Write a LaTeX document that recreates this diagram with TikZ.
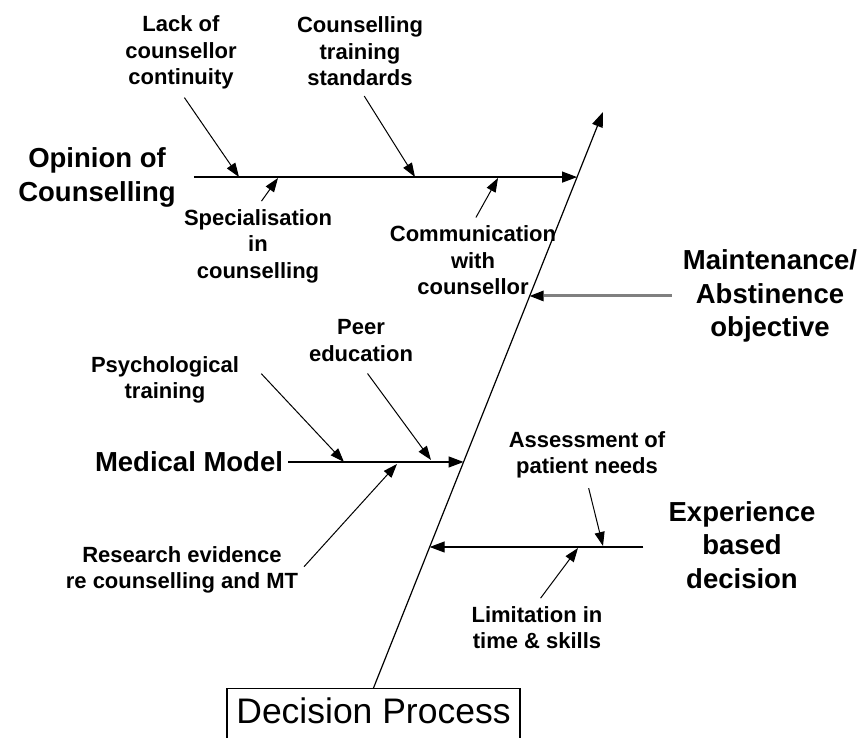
\documentclass[tikz,border=0pt]{standalone}
\usepackage{fontspec}
\setmainfont{Liberation Sans}
\usetikzlibrary{arrows.meta}

\begin{document}
\begin{tikzpicture}[x=1pt,y=-1pt,
    cause/.style={font=\bfseries\fontsize{22}{26.5}\selectfont, align=center, inner sep=3pt},
    effect/.style={font=\bfseries\fontsize{27.5}{33.5}\selectfont, align=center, inner sep=3pt},
    bone/.style={line width=1.2pt, -{Triangle[length=15pt,width=11pt]}},
    rib/.style={line width=1pt, -{Triangle[length=14pt,width=10pt]}}]
  \useasboundingbox (0,0) rectangle (863,738);

  % Head box and spine
  \node[draw, line width=1.2pt, anchor=north, minimum width=293pt,
        text height=28pt, text depth=20pt, inner ysep=7pt,
        font=\fontsize{35.5}{40}\selectfont] (dp) at (373.5,688) {Decision Process};
  \coordinate (top) at (603,112);
  \draw[bone] (dp.north) -- coordinate[pos=0.2448] (expEnd)
                            coordinate[pos=0.3924] (medEnd)
                            coordinate[pos=0.6806] (maintEnd)
                            coordinate[pos=0.887] (opEnd) (top);

  % Opinion of Counselling
  \node[effect] (opinion) at (97,177.5) {Opinion of\\Counselling};
  \draw[bone, shorten <=15pt] (opinion.east |- opEnd) -- (opEnd);

  \node[cause] (lack) at (181,52.7) {Lack of\\counsellor\\continuity};
  \node[cause] (train) at (360,51.5) {Counselling\\training\\standards};
  \node[cause] (spec) at (258,246) {Specialisation\\in\\counselling};
  \node[cause] (comm) at (473,260.5) {Communication\\with\\counsellor};

  \coordinate (lackTip) at (239,177);
  \coordinate (trainTip) at (415,177);
  \coordinate (specTip) at (278,178);
  \coordinate (commTip) at (498,178);
  \draw[rib, shorten <=6pt] (lack.south) -- (lackTip);
  \draw[rib, shorten <=8pt] (train.south) -- (trainTip);
  \draw[rib, shorten <=6pt] (spec.north) -- (specTip);
  \draw[rib, shorten <=6pt] (comm.north) -- (commTip);

  % Maintenance/Abstinence objective
  \node[effect] (maint) at (770,296) {Maintenance/\\Abstinence\\objective};
  \draw[draw=gray, line width=3pt, shorten <=8pt,
        -{Triangle[length=14pt,width=11pt,line width=0pt,black]}]
        (maint.west |- maintEnd) -- (maintEnd);

  % Medical Model
  \node[effect] (medical) at (189,462) {Medical Model};
  \draw[bone, shorten <=2pt] (medical.east |- medEnd) -- (medEnd);

  \node[cause] (psych) at (165,380) {Psychological\\training};
  \node[cause] (peer) at (361,340.5) {Peer\\education};
  \node[cause] (research) at (182,569.7) {Research evidence\\re counselling and MT};

  \coordinate (psychTip) at (344,462);
  \coordinate (peerTip) at (431,460);
  \coordinate (researchTip) at (397,464);
  \draw[rib, shorten <=28pt] (psych.north east) -- (psychTip);
  \draw[rib, shorten <=11pt] (peer.south) -- (peerTip);
  \draw[rib, shorten <=4pt] (research.east) -- (researchTip);

  % Experience based decision
  \node[effect] (expo) at (742,545) {Experience\\based\\decision};
  \draw[bone, shorten <=22pt] (expo.west |- expEnd) -- (expEnd);

  \node[cause] (assess) at (587,454.7) {Assessment of\\patient needs};
  \node[cause] (limit) at (537,627.5) {Limitation in\\time \& skills};

  \coordinate (assessTip) at (603,546);
  \coordinate (limitTip) at (578,548);
  \draw[rib, shorten <=7pt] (assess.south) -- (assessTip);
  \draw[rib, shorten <=6pt] (limit.north) -- (limitTip);
\end{tikzpicture}
\end{document}
